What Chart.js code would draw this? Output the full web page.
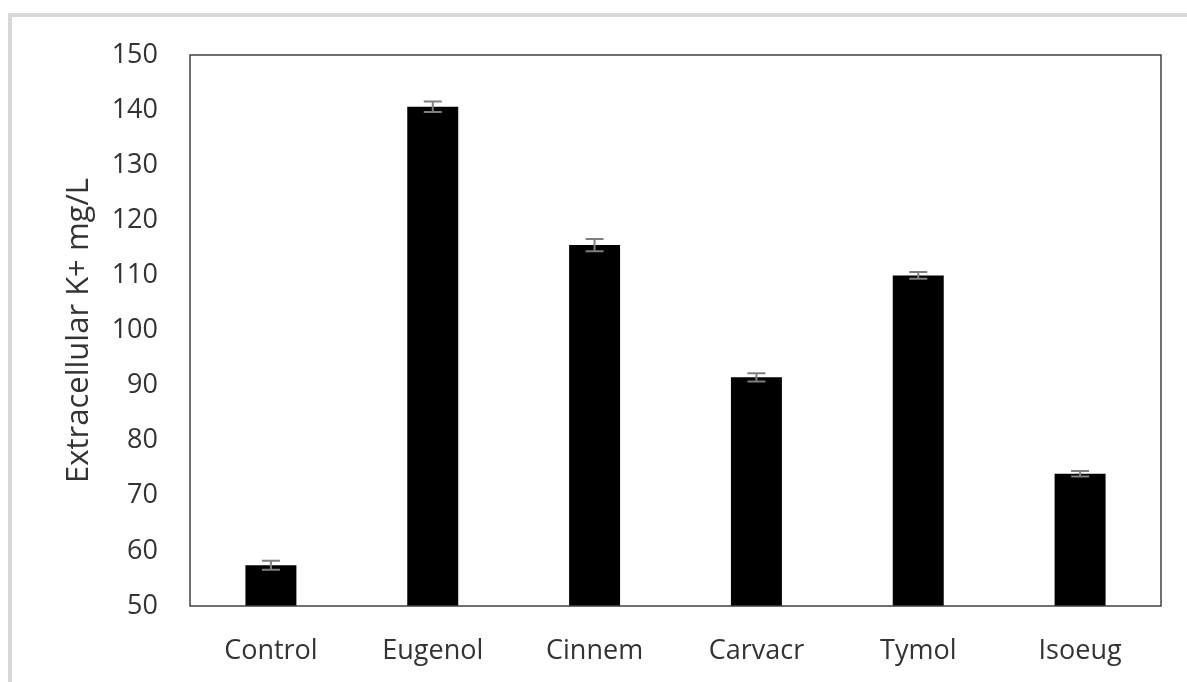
<!DOCTYPE html>
<html>
<head>
<meta charset="utf-8">
<script src="https://cdn.jsdelivr.net/npm/chart.js@4.4.1/dist/chart.umd.min.js"></script>
<style>
  html, body { margin: 0; padding: 0; background: #ffffff; overflow: hidden; }
  #frame { position: absolute; left: 8px; top: 13px; width: 1200px; height: 700px; border: 4px solid #d9d9d9; box-sizing: border-box; }
  #wrap { position: absolute; left: 0; top: 0; width: 1187px; height: 682px; }
</style>
</head>
<body>
<div id="frame"></div>
<div id="wrap"><canvas id="c" width="1187" height="682"></canvas></div>
<script>
const categories = ["Control", "Eugenol", "Cinnem", "Carvacr", "Tymol", "Isoeug"];
const values = [57.4, 140.6, 115.5, 91.5, 110.0, 74.0];
const errors = [0.8, 0.95, 1.1, 0.75, 0.6, 0.5];
const yTicks = [50, 60, 70, 80, 90, 100, 110, 120, 130, 140, 150];
const yTitle = "Extracellular K+ mg/L";

const FONT = "'Open Sans', 'DejaVu Sans', sans-serif";
const TEXT = "#333333";

const errorBars = {
  id: 'errorBars',
  afterDatasetsDraw(chart) {
    const meta = chart.getDatasetMeta(0);
    const y = chart.scales.y;
    const ctx = chart.ctx;
    ctx.save();
    ctx.strokeStyle = '#7f7f7f';
    ctx.lineWidth = 2;
    meta.data.forEach((bar, i) => {
      const x = bar.x;
      const yHi = y.getPixelForValue(values[i] + errors[i]);
      const yLo = y.getPixelForValue(values[i] - errors[i]);
      const half = 9;
      ctx.beginPath();
      ctx.moveTo(x, yHi); ctx.lineTo(x, yLo);
      ctx.moveTo(x - half, yHi); ctx.lineTo(x + half, yHi);
      ctx.moveTo(x - half, yLo); ctx.lineTo(x + half, yLo);
      ctx.stroke();
    });
    ctx.restore();
  }
};

const plotBorder = {
  id: 'plotBorder',
  afterDatasetsDraw(chart) {
    const a = chart.chartArea;
    const ctx = chart.ctx;
    ctx.save();
    ctx.strokeStyle = '#404040';
    ctx.lineWidth = 1.5;
    ctx.strokeRect(a.left, a.top, a.right - a.left, a.bottom - a.top);
    ctx.restore();
  }
};

new Chart(document.getElementById('c'), {
  type: 'bar',
  data: {
    labels: categories,
    datasets: [{
      data: values,
      backgroundColor: '#000000',
      borderWidth: 0,
      barPercentage: 0.315,
      categoryPercentage: 1.0
    }]
  },
  options: {
    responsive: false,
    animation: false,
    devicePixelRatio: 1,
    layout: { padding: { left: 0, top: 55, right: 26, bottom: 0 } },
    plugins: { legend: { display: false }, tooltip: { enabled: false } },
    scales: {
      x: {
        grid: { display: false, drawTicks: false },
        border: { display: false },
        ticks: { color: TEXT, font: { family: FONT, size: 27 }, padding: 29, maxRotation: 0 },
        afterFit(s) { s.height = 76; }
      },
      y: {
        min: 50, max: 150,
        grid: { display: false, drawTicks: false },
        border: { display: false },
        afterBuildTicks(s) { s.ticks = yTicks.map(v => ({ value: v })); },
        ticks: { color: TEXT, font: { family: FONT, size: 27 }, padding: 32 },
        title: { display: true, text: yTitle, color: TEXT, font: { family: FONT, size: 31 }, padding: { top: 61, bottom: 0 } },
        afterFit(s) { s.width = 190; }
      }
    }
  },
  plugins: [errorBars, plotBorder]
});
</script>
</body>
</html>
